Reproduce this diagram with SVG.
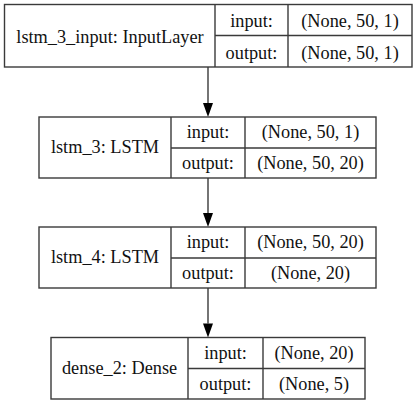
<svg xmlns="http://www.w3.org/2000/svg" width="416" height="405" viewBox="0 0 416 405">
<defs>
<style>
.b{fill:none;stroke:#3a3a3a;stroke-width:1.4}
.t{font-family:"Liberation Serif","Times New Roman",serif;font-size:18.3px;fill:#111;text-anchor:middle}
.e{stroke:#3a3a3a;stroke-width:1.4;fill:none}
</style>
</defs>
<rect width="416" height="405" fill="#fff"/>
<g id="edges">
<line class="e" x1="208" y1="67" x2="208" y2="103"/><path d="M203,103 L213,103 L208,117 Z" fill="#000"/>
<line class="e" x1="208" y1="178" x2="208" y2="213"/><path d="M203,213 L213,213 L208,227 Z" fill="#000"/>
<line class="e" x1="208" y1="288" x2="208" y2="323.5"/><path d="M203,323.5 L213,323.5 L208,337.5 Z" fill="#000"/>
</g>
<g id="lstm_3_input">
<rect class="b" x="4.5" y="4.5" width="407.5" height="62.5"/>
<line class="b" x1="215" y1="4.5" x2="215" y2="67"/>
<line class="b" x1="288" y1="4.5" x2="288" y2="67"/>
<line class="b" x1="215" y1="35.5" x2="412" y2="35.5"/>
<text class="t" x="110" y="43">lstm_3_input: InputLayer</text>
<text class="t" x="251.5" y="27">input:</text>
<text class="t" x="251.5" y="59">output:</text>
<text class="t" x="350" y="27">(None, 50, 1)</text>
<text class="t" x="350" y="59">(None, 50, 1)</text>
</g>
<g id="lstm_3">
<rect class="b" x="39" y="117" width="337" height="61"/>
<line class="b" x1="171" y1="117" x2="171" y2="178"/>
<line class="b" x1="245" y1="117" x2="245" y2="178"/>
<line class="b" x1="171" y1="148" x2="376" y2="148"/>
<text class="t" x="105" y="153">lstm_3: LSTM</text>
<text class="t" x="208" y="138">input:</text>
<text class="t" x="208" y="169">output:</text>
<text class="t" x="310.5" y="138">(None, 50, 1)</text>
<text class="t" x="310.5" y="169">(None, 50, 20)</text>
</g>
<g id="lstm_4">
<rect class="b" x="39" y="227" width="337" height="61"/>
<line class="b" x1="171" y1="227" x2="171" y2="288"/>
<line class="b" x1="245" y1="227" x2="245" y2="288"/>
<line class="b" x1="171" y1="258" x2="376" y2="258"/>
<text class="t" x="105" y="263">lstm_4: LSTM</text>
<text class="t" x="208" y="248">input:</text>
<text class="t" x="208" y="279">output:</text>
<text class="t" x="310.5" y="248">(None, 50, 20)</text>
<text class="t" x="310.5" y="279">(None, 20)</text>
</g>
<g id="dense_2">
<rect class="b" x="51" y="337.5" width="314" height="61.5"/>
<line class="b" x1="188" y1="337.5" x2="188" y2="399"/>
<line class="b" x1="263" y1="337.5" x2="263" y2="399"/>
<line class="b" x1="188" y1="368.5" x2="365" y2="368.5"/>
<text class="t" x="119.5" y="374">dense_2: Dense</text>
<text class="t" x="225.5" y="359">input:</text>
<text class="t" x="225.5" y="390">output:</text>
<text class="t" x="314" y="359">(None, 20)</text>
<text class="t" x="314" y="390">(None, 5)</text>
</g>
</svg>
